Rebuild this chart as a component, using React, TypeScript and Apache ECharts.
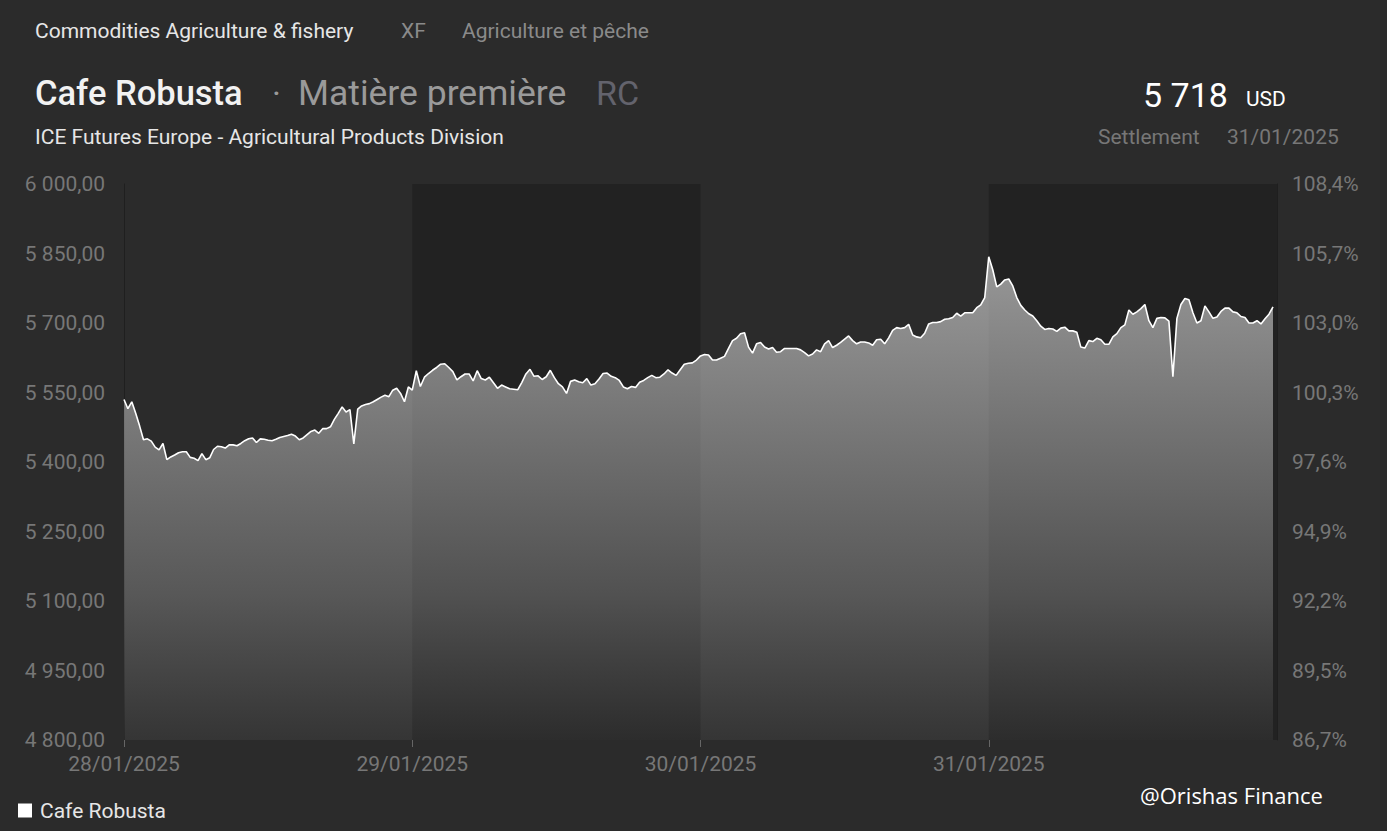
import React, { useEffect, useRef } from "react";
import * as echarts from "echarts";

const dates = ["28/01/2025", "29/01/2025", "30/01/2025", "31/01/2025"];
const referencePrice = 5533.5;

const day1 = [
  5535, 5515, 5530, 5505, 5478, 5448, 5450, 5445, 5432, 5426, 5440, 5405, 5411, 5415, 5420, 5422, 5422, 5410, 5408, 5403,
  5418, 5405, 5409, 5427, 5434, 5433, 5430, 5437, 5437, 5435, 5440, 5446, 5450, 5452, 5442, 5450, 5449, 5447, 5446, 5449,
  5453, 5455, 5457, 5460, 5456, 5448, 5452, 5459, 5466, 5469, 5462, 5472, 5472, 5476, 5492, 5505, 5519, 5508, 5513, 5439,
  5514, 5521, 5524, 5526, 5530, 5535, 5540, 5544, 5541, 5555, 5559, 5548, 5530, 5562,
];
const day2 = [
  5555, 5597, 5563, 5583, 5591, 5598, 5604, 5611, 5612, 5604, 5595, 5577, 5584, 5590, 5590, 5575, 5597, 5580, 5577, 5583,
  5571, 5559, 5566, 5562, 5558, 5557, 5556, 5572, 5590, 5600, 5585, 5586, 5578, 5584, 5598, 5582, 5569, 5562, 5548, 5574,
  5577, 5573, 5571, 5580, 5566, 5569, 5579, 5591, 5592, 5585, 5582, 5576, 5562, 5558, 5563, 5561, 5572, 5576, 5582, 5587,
  5582, 5583, 5590, 5599, 5592, 5587, 5599, 5611, 5613, 5614, 5620,
];
const day3 = [
  5629, 5632, 5631, 5620, 5620, 5624, 5628, 5645, 5662, 5667, 5677, 5679, 5648, 5635, 5655, 5658, 5648, 5644, 5647, 5637,
  5638, 5645, 5645, 5645, 5645, 5642, 5636, 5629, 5633, 5642, 5638, 5655, 5662, 5647, 5652, 5658, 5665, 5672, 5662, 5655,
  5659, 5659, 5657, 5652, 5664, 5665, 5655, 5668, 5684, 5690, 5688, 5690, 5697, 5674, 5670, 5668, 5678, 5698, 5701, 5701,
  5703, 5708, 5709, 5712, 5721, 5715, 5722, 5722, 5722, 5733, 5739, 5755,
];
const day4 = [
  5843, 5815, 5778, 5784, 5793, 5795, 5780, 5755, 5738, 5728, 5720, 5715, 5705, 5693, 5686, 5688, 5687, 5682, 5689, 5691,
  5683, 5683, 5680, 5648, 5646, 5662, 5660, 5667, 5664, 5654, 5654, 5670, 5677, 5690, 5696, 5728, 5719, 5724, 5731, 5740,
  5705, 5690, 5710, 5712, 5711, 5704, 5584, 5710, 5740, 5753, 5750, 5722, 5700, 5705, 5737, 5724, 5710, 5713, 5725, 5732,
  5732, 5724, 5722, 5714, 5712, 5700, 5700, 5705, 5698, 5709, 5719, 5735,
];
const days = [day1, day2, day3, day4];

const yMin = 4800;
const yMax = 6000;
const yStep = 150;

const fmtPrice = (v: number) => {
  const [i, d] = v.toFixed(2).split(".");
  return i.replace(/\B(?=(\d{3})+(?!\d))/g, " ") + "," + d;
};
const fmtPct = (v: number) => ((v / referencePrice) * 100).toFixed(1).replace(".", ",") + "%";

export default function App() {
  const ref = useRef<HTMLDivElement>(null);
  useEffect(() => {
    if (!ref.current) return;
    const chart = echarts.init(ref.current, undefined, { renderer: "svg" });
    const points: [number, number][] = [];
    days.forEach((arr, d) => arr.forEach((v, i) => points.push([d + i / arr.length, v])));
    const font = "Roboto";
    const small = 21;
    const txt = (text: string, x: number, y: number, size: number, fill: string, weight: any = "normal", family = font) => ({
      type: "text",
      x,
      y,
      silent: true,
      style: { text, fill, fontSize: size, fontFamily: family, fontWeight: weight, verticalAlign: "middle", align: "left" },
    });
    chart.setOption({
      animation: false,
      backgroundColor: "#2b2b2b",
      grid: { left: 124, right: 110, top: 184, bottom: 91 },
      legend: {
        show: true,
        left: 18,
        top: 800,
        padding: 0,
        icon: "rect",
        itemWidth: 14,
        itemHeight: 14,
        itemGap: 8,
        data: ["Cafe Robusta"],
        textStyle: { color: "#e6e6e6", fontSize: small, fontFamily: font, padding: [0, 0, 0, 3] },
      },
      xAxis: {
        type: "value",
        min: 0,
        max: 4,
        interval: 1,
        splitLine: { show: false },
        axisLine: { show: false },
        axisTick: { show: true, length: 7, lineStyle: { color: "#666" } },
        axisLabel: {
          color: "#777",
          fontSize: small,
          fontFamily: font,
          margin: 13,
          showMaxLabel: false,
          formatter: (v: number) => dates[v] ?? "",
        },
      },
      yAxis: [
        {
          type: "value",
          min: yMin,
          max: yMax,
          interval: yStep,
          position: "left",
          splitLine: { show: false },
          axisLine: { show: true, lineStyle: { color: "#1f1f1f" } },
          axisTick: { show: false },
          axisLabel: { color: "#777", fontSize: small, fontFamily: font, margin: 19, formatter: fmtPrice },
        },
        {
          type: "value",
          min: yMin,
          max: yMax,
          interval: yStep,
          position: "right",
          splitLine: { show: false },
          axisLine: { show: true, lineStyle: { color: "#1f1f1f" } },
          axisTick: { show: false },
          axisLabel: { color: "#777", fontSize: small, fontFamily: font, margin: 15, formatter: fmtPct },
        },
      ],
      series: [
        {
          name: "Cafe Robusta",
          type: "line",
          data: points,
          color: "#ffffff",
          showSymbol: false,
          symbol: "none",
          lineStyle: { color: "#ffffff", width: 1.6 },
          areaStyle: {
            color: new echarts.graphic.LinearGradient(0, 0, 0, 1, [
              { offset: 0, color: "rgba(225,225,225,0.88)" },
              { offset: 0.7, color: "rgba(210,210,210,0.38)" },
              { offset: 1, color: "rgba(200,200,200,0.09)" },
            ]),
          },
          markArea: {
            silent: true,
            itemStyle: { color: "rgba(0,0,0,0.2)" },
            data: [
              [{ xAxis: 1 }, { xAxis: 2 }],
              [{ xAxis: 3 }, { xAxis: 4 }],
            ],
          },
        },
      ],
      graphic: [
        txt("Commodities Agriculture & fishery", 35, 31, small, "#e6e6e6"),
        txt("XF", 401, 31, small, "#8a8a8a"),
        txt("Agriculture et pêche", 462, 31, small, "#8a8a8a"),
        txt("Cafe Robusta", 35, 93, 34.5, "#f2f2f2", 500),
        txt("·", 272, 93, 34, "#9a9a9a"),
        txt("Matière première", 298, 93, 35.5, "#9a9a9a"),
        txt("RC", 596, 93, 34, "#63636d"),
        txt("ICE Futures Europe - Agricultural Products Division", 35, 137, small, "#e6e6e6"),
        txt("5 718", 1143, 95, 34, "#ffffff"),
        txt("USD", 1246, 99, small, "#ffffff"),
        txt("Settlement", 1098, 137, small, "#777777"),
        txt("31/01/2025", 1227, 137, small, "#777777"),
        txt("@Orishas Finance", 1140, 795, 22, "#ffffff", "normal", "Open Sans"),
      ],
    });
    return () => chart.dispose();
  }, []);
  return <div ref={ref} style={{ position: "fixed", left: 0, top: 0, width: 1387, height: 831 }} />;
}
